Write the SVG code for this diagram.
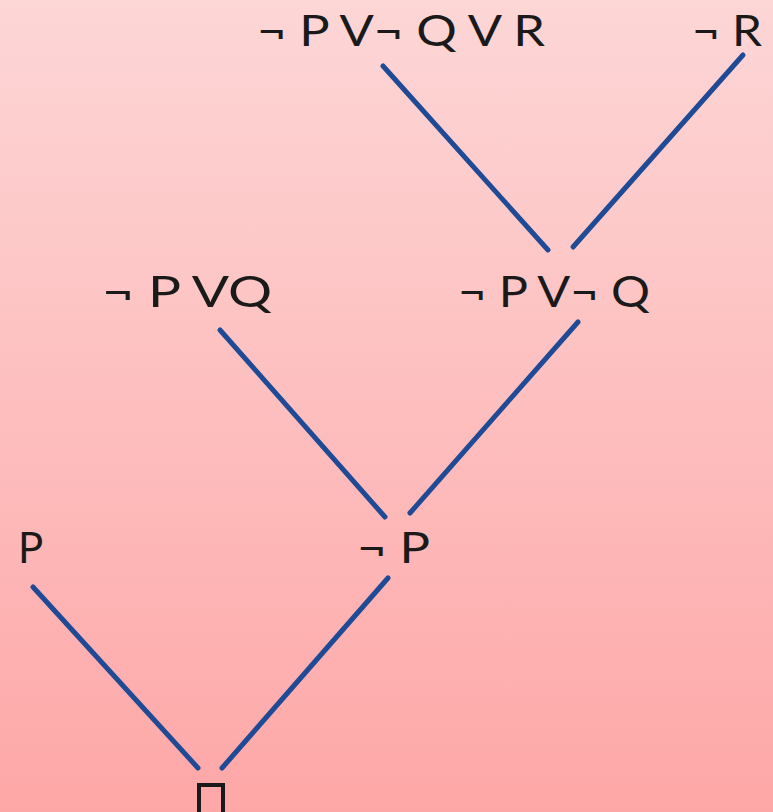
<svg xmlns="http://www.w3.org/2000/svg" width="773" height="812" viewBox="0 0 773 812">
<defs>
<linearGradient id="bg" x1="0" y1="0" x2="0" y2="1">
<stop offset="0" stop-color="#fdd6d6"/>
<stop offset="1" stop-color="#fea7a7"/>
</linearGradient>
<style>
.lbl{font-family:Lato,"Open Sans","DejaVu Sans",sans-serif;font-size:42px;fill:#1a1a1a}
.edge{stroke:#1f4a96;stroke-width:5;stroke-linecap:round;fill:none}
</style>
</defs>
<rect width="773" height="812" fill="url(#bg)"/>
<g id="connectors">
<line class="edge" x1="383" y1="66" x2="548" y2="250"/>
<line class="edge" x1="743" y1="55" x2="573" y2="247"/>
<line class="edge" x1="220" y1="330" x2="385" y2="517"/>
<line class="edge" x1="578" y1="322" x2="410" y2="513"/>
<line class="edge" x1="33" y1="587" x2="198" y2="768"/>
<line class="edge" x1="388" y1="578" x2="222" y2="768"/>
</g>
<g id="n1"><text class="lbl" x="257" y="46" textLength="288" lengthAdjust="spacingAndGlyphs">¬ P V¬ Q V R</text></g>
<g id="n2"><text class="lbl" x="692" y="46" textLength="70" lengthAdjust="spacingAndGlyphs">¬ R</text></g>
<g id="n3"><text class="lbl" x="102" y="307" textLength="170" lengthAdjust="spacingAndGlyphs">¬ P VQ</text></g>
<g id="n4"><text class="lbl" x="458" y="307" textLength="192" lengthAdjust="spacingAndGlyphs">¬ P V¬ Q</text></g>
<g id="n5"><text class="lbl" x="18" y="563">P</text></g>
<g id="n6"><text class="lbl" x="357" y="563" textLength="73" lengthAdjust="spacingAndGlyphs">¬ P</text></g>
<g id="n7"><rect x="199" y="785" width="24" height="30" fill="none" stroke="#1a1a1a" stroke-width="4"/></g>
</svg>
